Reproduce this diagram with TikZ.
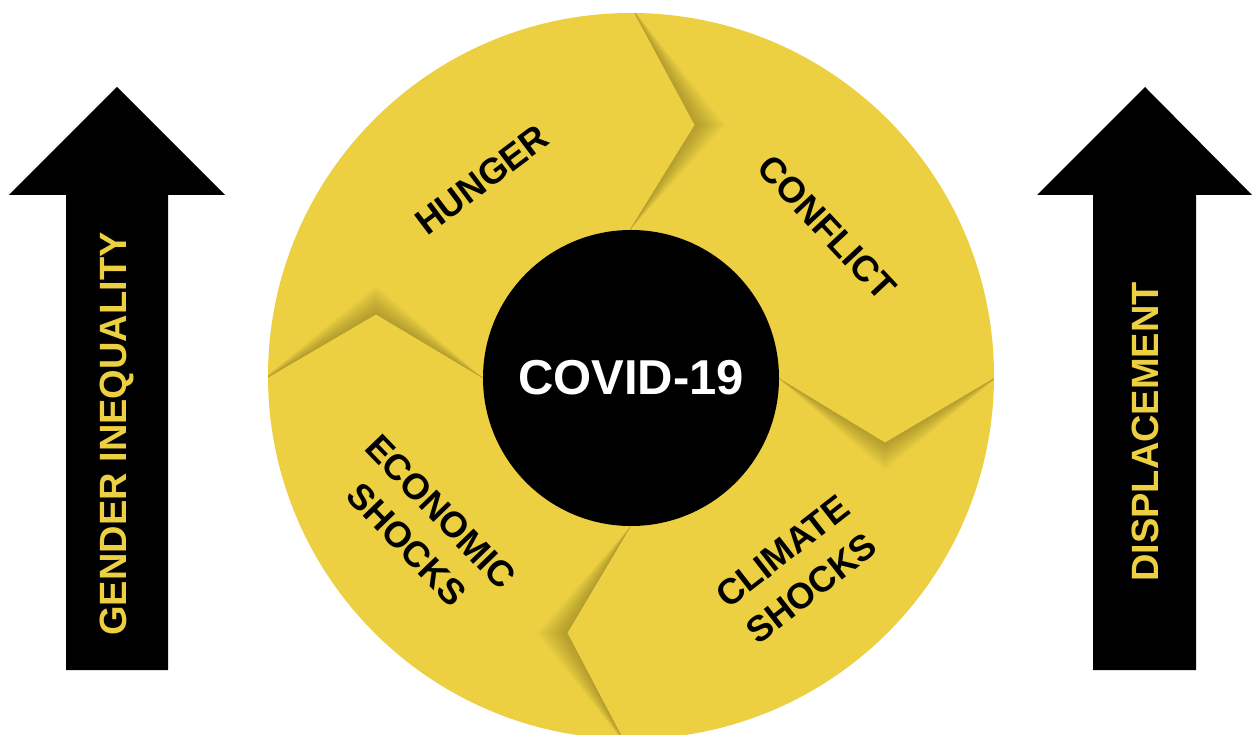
\documentclass[tikz,border=0pt]{standalone}
\usepackage{fontspec}
\setmainfont{Liberation Sans}
\usepackage{tikz}
\definecolor{wheel yellow}{RGB}{236,208,66}
\tikzstyle{segment label} = [font=\fontsize{36}{47}\selectfont\bfseries, align=center, inner sep=0]
\tikzstyle{arrow label}   = [font=\fontsize{38}{40}\selectfont\bfseries, text=wheel yellow, rotate=90, inner sep=0]
\tikzstyle{crease}        = [line width=0.5, black!25!wheel yellow]

\begin{document}
\begin{tikzpicture}[x=1pt, y=-1pt]
    \useasboundingbox (0,0) rectangle (1252,735);

    % Big wheel
    \fill[wheel yellow] (631,376) circle (363);

    % Creases between the segments, shadow on one side
    \begin{scope}
        \clip (631,376) circle (363);
        \foreach \ax/\ay/\px/\py/\bx/\by/\dx/\dy in {
                632/8/695/125/630/230/30/0,
                778/378/885/443/1000/375/0/27,
                258/383/376/314/483/378/0/-28,
                630/527/567/633/626/745/-30/0}{
            \foreach \i in {1,...,10}
                \fill[black, opacity=0.022] (\ax,\ay) -- (\px+\i*\dx/10,\py+\i*\dy/10) -- (\bx,\by) -- (\px,\py) -- cycle;
            \draw[crease] (\ax,\ay) -- (\px,\py) -- (\bx,\by);
        }
    \end{scope}

    % Hub
    \node (covid) [circle, fill=black, minimum size=296, inner sep=0, text=white,
        font=\fontsize{49}{50}\selectfont\bfseries] at (631,378) {COVID-19};

    % Segment labels
    \node (hunger)   [segment label, rotate=37]  at (482,180) {HUNGER};
    \node (conflict) [segment label, rotate=-47] at (827,228) {CONFLICT};
    \node (economic) [segment label, rotate=-46] at (424,528) {ECONOMIC\\SHOCKS};
    \node (climate)  [segment label, rotate=38]  at (797,570) {CLIMATE\\SHOCKS};

    % Side arrows
    \fill (117,87) -- (225,195) -- (168,195) -- (168,670) -- (66,670) -- (66,195) -- (9,195) -- cycle;
    \fill (1145,87) -- (1252,195) -- (1196,195) -- (1196,670) -- (1093,670) -- (1093,195) -- (1037,195) -- cycle;

    \node (gender)       [arrow label] at (117,434)  {GENDER INEQUALITY};
    \node (displacement) [arrow label] at (1145,432) {DISPLACEMENT};

\end{tikzpicture}
\end{document}
